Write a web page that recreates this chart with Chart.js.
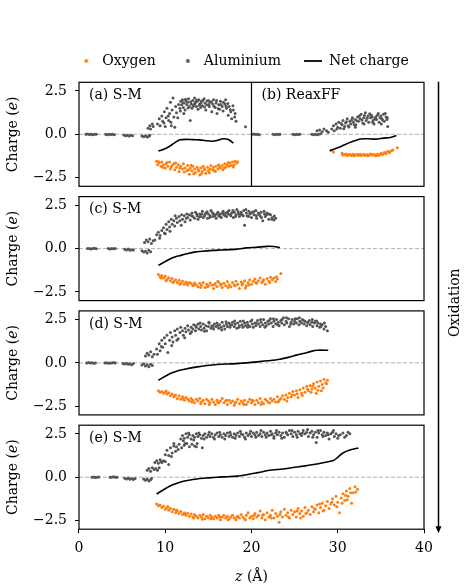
<!DOCTYPE html>
<html><head><meta charset="utf-8">
<script src="https://cdn.jsdelivr.net/npm/chart.js@4.4.1/dist/chart.umd.min.js"></script>
<style>html,body{margin:0;padding:0;background:#fff;}#wrap{position:relative;width:471px;height:588px;}canvas{display:block;}</style>
</head><body><div id="wrap"><canvas id="c" width="471" height="588"></canvas></div>
<script>
// ---------- tick labels / categories ----------
const xTicks = [0, 10, 20, 30, 40];
const xTickLabels = ['0', '10', '20', '30', '40'];
const yTicks = [-2.5, 0, 2.5];
const yTickLabels = ['\u22122.5', '0.0', '2.5'];
const seriesNames = ['Oxygen', 'Aluminium', 'Net charge'];
const panelLabels = ['(a) S-M', '(c) S-M', '(d) S-M', '(e) S-M'];
const reaxLabel = '(b) ReaxFF';
const reaxStart = [20];
const zeroLine = [[0, 0], [40, 0]];

// ---------- panel (a) S-M ----------
const alA = [[0.8,0.0],[1.0,0.02],[1.2,-0.01],[1.4,0.01],[1.6,-0.02],[1.8,0.0],[2.0,0.01],
[3.1,0.0],[3.3,-0.02],[3.5,0.01],[3.7,-0.01],[3.9,0.0],[4.1,-0.02],
[5.2,-0.04],[5.4,-0.08],[5.6,-0.05],[5.8,-0.1],[6.0,-0.06],[6.2,-0.09],
[7.3,-0.1],[7.5,-0.14],[7.7,-0.08],[7.9,-0.16],[8.1,-0.11],[8.2,-0.05],
[8.0,0.35],[8.2,0.5],[8.3,0.3],[8.5,0.6],[8.6,0.45],
[9.1,0.6],[9.3,0.9],[9.4,0.5],[9.6,1.05],[9.7,0.75],[9.9,1.3],[10.0,0.45],[10.1,0.95],[10.2,1.5],[10.4,0.8],[10.5,1.2],[10.6,1.85],[10.7,0.5],[10.8,1.4],[10.9,2.1],[11.0,1.0],[11.1,0.4],[11.2,1.6],[11.3,1.25],
[11.7,1.5],[11.8,1.9],[11.9,1.7],[12.0,2.0],[12.1,1.55],[12.2,1.8],[12.3,1.4],[12.4,1.95],[12.5,1.7],[12.6,1.85],[12.7,2.05],[12.8,1.6],[12.9,0.8],[13.0,1.75],[13.1,1.5],[13.2,1.95],[13.3,1.7],[13.4,2.1],[13.5,1.85],[13.6,1.6],[13.7,1.9],[13.8,1.45],[13.9,2.0],[14.0,1.75],[14.1,1.55],[14.2,1.9],[14.3,1.65],[14.5,2.05],[14.6,1.8],[14.7,1.4],[14.8,1.7],[15.0,1.95],[15.1,1.6],[15.2,1.85],[15.4,1.3],[15.5,1.75],[15.6,2.0],[15.8,1.55],[15.9,1.8],[16.0,1.2],[16.2,1.7],[16.3,1.45],[16.4,1.9],[16.6,1.6],[16.7,1.35],[16.9,1.75],[17.0,2.0],[17.1,1.5],[17.3,1.1],[17.4,1.6],[17.6,1.3],[17.7,0.9],[17.9,1.4],[18.1,1.2],[18.2,0.75],[19.3,0.43],
[11.55,1.72],[11.75,1.35],[12.05,1.82],[12.35,2.02],[12.65,1.52],[12.95,1.88],[13.25,1.62],[13.45,1.78],[13.65,1.98],[13.95,1.68],[14.15,1.82],[14.35,1.95],[14.55,1.58],[14.85,1.92],[15.05,1.72],[15.35,1.88],[15.65,1.62],[15.95,1.95],[16.15,1.48],[16.45,1.72],[16.75,1.85],[17.05,1.62],[17.25,1.78],[17.55,1.42],[17.85,1.65],[18.05,1.0],[10.35,1.05],[10.65,0.7],[9.85,0.65],[11.45,0.95],[12.15,1.2]];
const oxA = [[9.0,-1.55],[9.1,-1.75],[9.3,-1.65],[9.5,-1.85],[9.6,-1.6],[9.8,-1.75],[10.0,-1.95],[10.1,-1.7],[10.3,-1.85],[10.5,-1.6],[10.6,-2.0],[10.8,-1.8],[11.0,-1.7],[11.1,-2.05],[11.3,-1.9],[11.5,-1.75],[11.6,-2.15],[11.8,-1.85],[12.0,-2.0],[12.1,-1.7],[12.3,-1.95],[12.5,-2.1],[12.6,-1.8],[12.8,-2.3],[12.9,-1.95],[13.1,-2.1],[13.2,-1.85],[13.4,-2.0],[13.5,-2.2],[13.7,-1.9],[13.8,-2.05],[14.0,-2.35],[14.1,-1.95],[14.3,-2.15],[14.4,-1.85],[14.6,-2.05],[14.7,-2.25],[14.9,-1.9],[15.0,-2.1],[15.2,-2.0],[15.3,-1.8],[15.5,-2.05],[15.6,-1.9],[15.8,-2.15],[15.9,-1.85],[16.1,-2.0],[16.2,-1.75],[16.4,-1.95],[16.6,-1.8],[16.7,-2.05],[16.9,-1.7],[17.0,-1.9],[17.2,-1.75],[17.4,-1.85],[17.5,-1.65],[17.7,-1.8],[17.8,-1.6],[18.0,-1.75],[18.1,-1.55],[18.3,-1.65],
[9.25,-1.58],[9.7,-1.9],[10.2,-1.62],[10.7,-1.88],[11.2,-1.65],[11.7,-1.95],[12.2,-2.18],[12.7,-2.05],[13.3,-2.28],[13.9,-2.12],[14.5,-1.98],[15.1,-2.22],[15.7,-2.1],[16.3,-1.88],[16.8,-1.95],[17.3,-1.62],[17.9,-1.88],[18.4,-1.58],[13.0,-1.78],[14.2,-2.28]];
const netA = [[9.2,-0.97],[9.9,-0.85],[10.6,-0.66],[11.2,-0.45],[11.7,-0.32],[12.4,-0.29],[13.2,-0.31],[14.0,-0.32],[14.7,-0.37],[15.4,-0.4],[16.0,-0.36],[16.7,-0.26],[17.3,-0.3],[17.9,-0.5]];

// ---------- panel (b) ReaxFF ----------
const alB = [[20.1,0.0],[20.3,0.02],[20.5,-0.01],[20.7,0.01],[20.9,-0.02],
[22.5,0.0],[22.7,-0.02],[22.9,0.01],[23.1,-0.01],[23.3,0.0],
[24.8,0.0],[25.0,-0.02],[25.2,0.01],[25.4,-0.01],[25.6,0.0],
[27.0,0.0],[27.2,-0.03],[27.4,0.01],[27.6,-0.02],[27.8,0.0],[28.0,0.03],
[27.6,0.2],[27.9,0.25],[28.2,0.15],[28.4,0.3],[28.7,0.2],[28.9,0.12],
[29.3,0.3],[29.5,0.5],[29.6,0.2],[29.8,0.6],[30.0,0.4],[30.1,0.7],[30.3,0.35],[30.5,0.55],[30.6,0.8],[30.8,0.45],[30.9,0.65],[31.1,0.9],[31.2,0.5],[31.4,0.75],[31.5,0.6],[31.7,0.95],[31.8,0.7],[32.0,0.85],[32.1,0.55],[32.3,1.0],[32.4,0.75],[32.6,0.9],[32.7,1.15],[32.9,0.65],[33.0,0.95],[33.2,1.25],[33.3,0.8],[33.5,1.05],[33.6,0.7],[33.8,0.95],[33.9,1.1],[34.1,0.8],[34.2,0.6],[34.4,1.0],[34.5,0.85],[34.7,1.2],[34.8,0.7],[35.0,1.05],[35.1,0.9],[35.3,1.15],[35.4,0.75],[35.6,1.0],[35.7,0.85],[35.8,0.45],
[29.9,0.3],[30.4,0.62],[30.7,0.32],[31.0,0.72],[31.3,0.42],[31.6,0.82],[31.9,0.55],[32.2,0.78],[32.5,1.05],[32.8,0.82],[33.1,1.08],[33.4,0.92],[33.7,1.18],[34.0,1.0],[34.3,0.88],[34.6,1.1],[34.9,0.95],[35.2,0.82],[35.5,1.2],[35.75,0.95],[32.05,0.4],[33.05,0.6],[34.05,0.7],[35.05,0.6]];
const oxB = [[29.2,-0.92],[29.5,-1.02],[30.5,-1.1],[30.8,-1.18],[31.0,-1.14],[31.2,-1.2],[31.4,-1.16],[31.6,-1.22],[31.8,-1.15],[32.0,-1.2],[32.2,-1.18],[32.4,-1.22],[32.6,-1.15],[32.8,-1.2],[33.0,-1.17],[33.2,-1.23],[33.4,-1.16],[33.6,-1.2],[33.8,-1.14],[34.0,-1.2],[34.2,-1.17],[34.4,-1.24],[34.6,-1.15],[34.8,-1.2],[35.0,-1.1],[35.2,-1.16],[35.4,-1.05],[35.6,-1.12],[35.8,-0.98],[36.0,-1.05],[36.2,-0.95],[36.9,-0.78],
[30.6,-1.2],[31.1,-1.22],[31.5,-1.18],[31.9,-1.24],[32.3,-1.16],[32.7,-1.22],[33.1,-1.2],[33.5,-1.24],[33.9,-1.18],[34.3,-1.2],[34.7,-1.22],[35.1,-1.14],[35.5,-1.08],[35.9,-1.02],[36.4,-0.9]];
const netB = [[29.1,-0.95],[30.0,-0.78],[30.8,-0.6],[31.7,-0.42],[32.6,-0.27],[33.5,-0.26],[34.4,-0.28],[35.3,-0.22],[36.1,-0.18],[36.8,-0.07]];

// ---------- panel (c) S-M ----------
const alC = [[1.0,0.0],[1.2,0.01],[1.4,-0.02],[1.6,0.0],[1.8,0.02],[2.0,-0.01],
[3.4,0.0],[3.6,-0.02],[3.8,0.01],[4.0,-0.01],[4.2,0.0],
[5.3,-0.04],[5.5,-0.08],[5.7,-0.03],[5.9,-0.1],[6.1,-0.06],[6.3,-0.08],
[7.3,-0.12],[7.5,-0.2],[7.7,-0.15],[7.9,-0.25],[8.1,-0.1],[8.3,-0.18],
[7.6,0.35],[7.8,0.5],[8.0,0.4],[8.2,0.55],[8.4,0.3],[8.6,0.45],[8.8,0.5],[9.0,0.8],[9.2,0.95],[9.4,0.75],[9.6,1.05],[9.8,1.2],[9.9,0.9],[10.1,1.4],[10.2,1.1],[10.4,1.55],[10.5,1.25],[10.7,1.7],[10.8,1.4],[11.0,1.6],[11.1,1.3],[11.3,1.75],[11.4,1.5],[11.6,1.85],[11.7,1.6],[11.9,1.95],[12.0,1.7],[12.2,1.9],[12.3,1.55],[12.5,2.0],[12.6,1.8],[12.8,1.95],[12.9,1.65],[13.1,2.05],[13.2,1.85],[13.4,1.75],[13.5,2.1],[13.7,1.9],[13.8,1.7],[14.0,2.0],[14.1,1.85],[14.3,2.15],[14.4,1.8],[14.6,1.95],[14.7,2.05],[14.9,1.75],[15.0,2.0],[15.2,1.9],[15.3,2.2],[15.5,1.85],[15.6,2.0],[15.8,1.95],[15.9,1.75],[16.1,2.1],[16.2,1.9],[16.4,2.0],[16.5,1.8],[16.7,2.15],[16.8,1.95],[17.0,2.05],[17.1,1.85],[17.3,2.0],[17.4,2.2],[17.6,1.9],[17.7,2.05],[17.9,1.8],[18.0,2.1],[18.2,1.95],[18.3,2.25],[18.5,2.0],[18.6,1.85],[18.8,2.1],[18.9,1.95],[19.1,2.2],[19.2,1.35],[19.4,2.05],[19.5,1.9],[19.7,2.15],[19.8,2.0],[20.0,1.8],[20.1,2.1],[20.3,1.95],[20.5,2.2],[20.6,1.75],[20.8,2.05],[21.0,1.9],[21.1,2.1],[21.3,1.6],[21.5,2.0],[21.6,1.85],[21.8,2.05],[22.0,1.7],[22.2,1.95],[22.4,1.8],[22.6,1.65],[22.8,1.75],
[13.95,1.82],[14.25,2.0],[14.55,1.88],[14.85,2.12],[15.15,1.8],[15.45,2.08],[15.75,1.88],[16.05,2.02],[16.35,1.85],[16.65,2.05],[16.95,1.9],[17.25,2.12],[17.55,1.95],[17.85,2.2],[18.15,1.85],[18.45,2.12],[18.75,1.98],[19.05,1.9],[19.35,2.25],[19.65,1.85],[19.95,2.05],[20.25,2.12],[20.55,1.9],[20.85,1.98],[21.15,1.8],[21.45,2.15],[21.75,1.95],[22.05,2.0],[22.35,1.7],[22.65,1.88],[10.55,1.0],[11.15,1.9],[11.85,1.35],[12.45,1.75],[13.05,1.9],[13.65,2.0],[9.35,0.6],[10.0,0.85]];
const oxC = [[9.2,-1.5],[9.4,-1.62],[9.6,-1.55],[9.8,-1.7],[10.0,-1.6],[10.2,-1.78],[10.4,-1.68],[10.6,-1.85],[10.8,-1.72],[11.0,-1.9],[11.2,-1.8],[11.4,-1.95],[11.6,-1.82],[11.8,-2.0],[12.0,-1.88],[12.2,-2.05],[12.4,-1.92],[12.6,-2.1],[12.8,-1.95],[13.0,-2.02],[13.2,-2.15],[13.4,-1.98],[13.6,-2.08],[13.8,-2.2],[14.0,-2.0],[14.2,-2.12],[14.4,-1.95],[14.6,-2.25],[14.8,-2.05],[15.0,-2.15],[15.2,-1.98],[15.4,-2.1],[15.6,-2.3],[15.8,-2.02],[16.0,-2.18],[16.2,-1.95],[16.4,-2.1],[16.6,-2.25],[16.8,-2.0],[17.0,-2.15],[17.2,-1.9],[17.4,-2.08],[17.6,-2.2],[17.8,-1.95],[18.0,-2.1],[18.2,-1.88],[18.4,-2.05],[18.6,-2.3],[18.8,-1.92],[19.0,-2.02],[19.2,-1.85],[19.4,-2.15],[19.6,-1.95],[19.8,-1.8],[20.0,-2.05],[20.2,-1.88],[20.4,-1.75],[20.6,-2.0],[20.8,-1.85],[21.0,-1.7],[21.2,-1.95],[21.4,-1.8],[21.6,-2.05],[21.8,-1.72],[22.0,-1.88],[22.2,-1.65],[22.4,-1.8],[22.6,-1.7],[22.8,-1.9],[23.0,-1.75],[23.4,-1.43],
[9.5,-1.7],[10.1,-1.85],[10.9,-1.95],[11.7,-2.05],[12.5,-2.0],[13.3,-2.1],[14.1,-2.25],[14.9,-2.2],[15.7,-2.08],[16.5,-2.05],[17.3,-2.25],[18.1,-2.15],[18.9,-2.1],[19.7,-2.1],[20.5,-1.95],[21.3,-1.88],[22.1,-1.95],[22.9,-1.62],[16.1,-1.88],[19.3,-2.28]];
const netC = [[9.2,-0.97],[10.0,-0.75],[10.6,-0.58],[11.2,-0.47],[11.8,-0.39],[12.5,-0.3],[13.2,-0.22],[14.3,-0.15],[15.5,-0.1],[16.5,-0.08],[17.5,-0.06],[18.5,-0.02],[19.4,0.04],[20.6,0.08],[21.8,0.13],[22.6,0.12],[23.3,0.06]];

// ---------- panel (d) S-M ----------
const alD = [[0.9,0.0],[1.1,0.02],[1.3,-0.01],[1.5,0.01],[1.7,-0.02],[1.9,0.0],
[3.0,0.0],[3.2,0.01],[3.4,-0.02],[3.6,0.0],[3.8,-0.01],[4.0,0.02],[4.2,0.0],
[5.1,-0.03],[5.3,-0.06],[5.5,-0.02],[5.7,-0.08],[5.9,-0.05],[6.1,-0.1],[6.3,-0.04],
[7.3,-0.12],[7.5,-0.05],[7.7,-0.18],[7.9,-0.1],[8.1,-0.22],[8.3,-0.08],[8.5,-0.15],
[7.7,0.4],[7.9,0.55],[8.1,0.45],[8.3,0.65],[8.5,0.35],[8.7,0.5],
[9.0,0.8],[9.1,0.5],[9.3,1.1],[9.4,0.7],[9.6,1.3],[9.7,0.9],[9.9,1.45],[10.0,1.1],[10.2,1.6],[10.3,0.6],[10.5,1.3],[10.6,1.75],[10.8,1.5],[10.9,1.2],[11.1,1.85],[11.2,1.6],[11.4,1.95],[11.5,1.4],[11.7,1.75],[11.8,2.05],[12.0,1.85],[12.1,1.6],[12.3,2.0],[12.4,1.8],[12.6,2.15],[12.7,1.9],[12.9,1.7],[13.0,2.05],[13.2,1.95],[13.3,2.2],[13.5,1.85],[13.6,2.05],[13.8,2.25],[13.9,1.95],[14.1,2.1],[14.2,1.9],[14.4,2.25],[14.5,2.0],[14.7,2.15],[14.8,1.85],[15.0,2.1],[15.1,2.3],[15.3,2.0],[15.4,2.15],[15.6,1.95],[15.7,2.25],[15.9,2.1],[16.0,2.3],[16.2,2.0],[16.3,2.2],[16.5,2.05],[16.6,2.35],[16.8,2.15],[16.9,1.95],[17.1,2.25],[17.2,2.1],[17.4,2.3],[17.5,2.05],[17.7,2.2],[17.8,2.35],[18.0,2.1],[18.1,2.25],[18.3,2.0],[18.4,2.3],[18.6,2.15],[18.7,2.4],[18.9,2.2],[19.0,2.05],[19.2,2.3],[19.3,2.15],[19.5,2.35],[19.6,2.2],[19.8,2.1],[19.9,2.4],[20.1,2.25],[20.2,2.05],[20.4,2.3],[20.5,2.15],[20.7,2.45],[20.8,2.25],[21.0,2.1],[21.1,2.35],[21.3,2.2],[21.4,2.5],[21.6,2.3],[21.7,2.15],[21.9,2.4],[22.0,2.25],[22.2,2.55],[22.3,2.3],[22.5,2.1],[22.6,2.4],[22.8,2.25],[22.9,2.5],[23.1,2.35],[23.2,2.15],[23.4,2.45],[23.5,2.3],[23.7,2.6],[23.8,2.2],[24.0,2.4],[24.1,2.3],[24.3,2.55],[24.4,2.1],[24.6,2.35],[24.7,2.5],[24.9,2.25],[25.0,2.4],[25.2,2.3],[25.3,2.55],[25.5,2.2],[25.6,2.4],[25.8,2.3],[25.9,2.5],[26.1,2.25],[26.2,2.4],[26.4,2.15],[26.5,2.35],[26.7,2.45],[26.8,2.2],[27.0,2.35],[27.1,2.1],[27.3,2.3],[27.4,2.4],[27.6,2.15],[27.7,2.3],[27.9,2.05],[28.0,2.25],[28.2,2.2],[28.4,1.95],[28.6,2.1],[28.8,1.85],
[13.05,1.8],[13.55,2.15],[14.05,2.3],[14.55,1.82],[15.05,2.35],[15.55,2.1],[16.05,2.15],[16.55,1.9],[17.05,2.38],[17.55,2.18],[18.05,2.42],[18.55,2.05],[19.05,2.42],[19.55,2.05],[20.05,2.48],[20.55,2.3],[21.05,2.5],[21.55,2.05],[22.05,2.45],[22.55,2.55],[23.05,2.2],[23.55,2.5],[24.05,2.6],[24.55,2.25],[25.05,2.55],[25.55,2.6],[26.05,2.45],[26.55,2.3],[27.05,2.5],[27.55,2.42],[28.05,2.1],[28.45,2.3],[10.75,1.0],[11.35,1.3],[12.25,1.45],[9.55,0.95]];
const oxD = [[9.2,-1.6],[9.4,-1.7],[9.6,-1.65],[9.8,-1.75],[10.0,-1.68],[10.2,-1.8],[10.4,-1.72],[10.6,-1.9],[10.8,-1.8],[11.0,-1.95],[11.2,-1.85],[11.4,-2.05],[11.6,-1.9],[11.8,-2.1],[12.0,-1.95],[12.2,-2.15],[12.4,-2.0],[12.6,-2.1],[12.8,-2.2],[13.0,-2.05],[13.2,-2.15],[13.4,-2.3],[13.6,-2.1],[13.8,-2.2],[14.0,-2.05],[14.2,-2.25],[14.4,-2.15],[14.6,-2.35],[14.8,-2.1],[15.0,-2.2],[15.2,-2.3],[15.4,-2.1],[15.6,-2.25],[15.8,-2.4],[16.0,-2.15],[16.2,-2.3],[16.4,-2.2],[16.6,-2.05],[16.8,-2.3],[17.0,-2.2],[17.2,-2.4],[17.4,-2.15],[17.6,-2.3],[17.8,-2.2],[18.0,-2.45],[18.2,-2.25],[18.4,-2.1],[18.6,-2.35],[18.8,-2.2],[19.0,-2.3],[19.2,-2.15],[19.4,-2.4],[19.6,-2.25],[19.8,-2.1],[20.0,-2.3],[20.2,-2.2],[20.4,-2.4],[20.6,-2.15],[20.8,-2.3],[21.0,-2.05],[21.2,-2.25],[21.4,-2.35],[21.6,-2.1],[21.8,-2.2],[22.0,-2.3],[22.2,-2.05],[22.4,-2.2],[22.6,-2.1],[22.8,-2.25],[23.0,-1.95],[23.2,-2.15],[23.4,-2.05],[23.6,-1.9],[23.8,-2.1],[24.0,-1.85],[24.2,-2.0],[24.4,-1.75],[24.6,-1.95],[24.8,-1.65],[25.0,-1.85],[25.2,-1.6],[25.4,-2.0],[25.6,-1.55],[25.8,-1.75],[26.0,-1.45],[26.2,-1.7],[26.4,-1.35],[26.6,-1.6],[26.8,-1.3],[27.0,-1.5],[27.2,-1.2],[27.4,-1.45],[27.5,-1.75],[27.6,-1.1],[27.8,-1.35],[28.0,-1.05],[28.1,-1.6],[28.2,-1.25],[28.4,-0.95],[28.6,-1.15],[28.8,-1.0],
[10.1,-1.62],[11.1,-1.88],[12.1,-2.05],[13.1,-2.25],[14.1,-2.35],[15.1,-2.4],[16.1,-2.28],[17.1,-2.15],[18.1,-2.3],[19.1,-2.4],[20.1,-2.15],[21.1,-2.4],[22.1,-2.3],[23.1,-2.25],[24.1,-2.2],[24.7,-1.85],[25.3,-1.78],[25.9,-1.88],[26.5,-1.52],[27.1,-1.35],[27.7,-1.58],[28.3,-1.45],[28.7,-1.2],[26.9,-1.7]];
const netD = [[9.2,-1.0],[10.6,-0.61],[11.3,-0.48],[12.1,-0.38],[13.7,-0.23],[14.8,-0.15],[16.0,-0.09],[18.3,-0.04],[20.6,0.06],[21.9,0.12],[23.3,0.21],[24.5,0.35],[25.2,0.45],[26.0,0.54],[26.8,0.65],[27.6,0.73],[28.9,0.73]];

// ---------- panel (e) S-M ----------
const alE = [[1.5,0.0],[1.7,0.01],[1.9,-0.02],[2.1,0.0],[2.3,0.01],
[3.6,0.0],[3.8,-0.01],[4.0,0.02],[4.2,-0.01],[4.4,0.0],
[5.3,-0.06],[5.5,-0.1],[5.7,-0.05],[5.9,-0.12],[6.1,-0.08],[6.3,-0.13],[6.5,-0.07],
[7.5,-0.1],[7.7,-0.18],[7.9,-0.12],[8.1,-0.22],[8.3,-0.15],[8.4,-0.08],
[7.9,0.4],[8.1,0.5],[8.3,0.35],[8.5,0.55],[8.7,0.45],[8.9,0.5],[9.1,0.4],[9.3,0.55],
[8.8,0.85],[9.0,0.95],[9.2,0.8],[9.4,1.0],[9.6,0.85],[9.8,0.95],[10.0,0.9],[10.4,0.73],
[10.0,1.3],[10.2,1.55],[10.4,1.25],[10.6,1.7],[10.8,1.4],[11.0,1.8],[11.2,1.5],
[11.0,1.95],[11.3,1.75],[11.6,1.9],[11.9,1.7],[12.2,1.85],[12.5,1.95],[12.8,1.75],[13.1,1.9],[13.4,1.8],[13.7,1.95],[14.3,1.7],
[11.8,2.2],[12.0,2.4],[12.2,2.25],[12.4,2.5],[12.6,2.3],[12.8,2.45],[13.0,2.2],[13.2,2.4],[13.4,2.3],[13.6,2.5],[13.8,2.35],[14.0,2.45],[14.2,2.25],[14.4,2.4],[14.6,2.5],[14.8,2.3],[15.0,2.45],[15.2,2.35],[15.4,2.5],[15.6,2.3],[15.8,2.45],[16.0,2.55],[16.2,2.35],[16.4,2.45],[16.6,2.3],[16.8,2.5],[17.0,2.4],[17.2,2.55],[17.4,2.35],[17.6,2.45],[17.8,2.3],[18.0,2.5],[18.2,2.4],[18.4,2.55],[18.6,2.35],[18.8,2.5],[19.0,2.45],[19.2,2.3],[19.4,2.55],[19.6,2.4],[19.8,2.5],[20.0,2.35],[20.2,2.55],[20.4,2.45],[20.6,2.6],[20.8,2.4],[21.0,2.5],[21.2,2.35],[21.4,2.6],[21.6,2.45],[21.8,2.55],[22.0,2.4],[22.2,2.65],[22.4,2.5],[22.6,2.35],[22.8,2.55],[23.0,2.45],[23.2,2.6],[23.4,2.4],[23.6,2.55],[23.8,2.3],[24.0,2.6],[24.2,2.45],[24.4,2.7],[24.6,2.5],[24.8,2.35],[25.0,2.6],[25.2,2.45],[25.4,2.65],[25.6,2.5],[25.8,2.4],[26.0,2.7],[26.2,2.5],[26.4,2.6],[26.6,2.35],[26.8,2.55],[27.0,2.65],[27.2,2.45],[27.4,2.6],[27.6,2.3],[27.8,2.55],[28.0,2.7],[28.2,2.45],[28.4,2.6],[28.6,2.4],[28.8,2.55],[29.0,2.2],[29.2,2.5],[29.4,2.6],[29.6,2.35],[29.8,2.5],[30.0,2.25],[30.3,2.45],[30.6,2.55],[31.0,2.4],[31.4,2.5],
[12.1,2.1],[12.7,2.55],[13.3,2.15],[13.9,2.55],[14.5,2.2],[15.1,2.6],[15.7,2.2],[16.3,2.6],[16.9,2.2],[17.5,2.6],[18.1,2.25],[18.7,2.65],[19.3,2.2],[19.9,2.65],[20.5,2.3],[21.1,2.7],[21.7,2.3],[22.3,2.45],[22.9,2.7],[23.5,2.25],[24.1,2.5],[24.7,2.7],[25.3,2.3],[25.9,2.55],[26.5,2.75],[27.1,2.3],[27.7,2.7],[28.3,2.35],[28.9,2.45],[29.5,2.7],[30.1,2.4],[30.8,2.3],[31.2,2.6],[12.3,1.95],[13.6,1.75],[10.7,1.2],[11.5,1.6],[9.5,0.9],[22.6,2.25],[27.5,2.0]];
const oxE = [[9.0,-1.55],[9.2,-1.65],[9.4,-1.6],[9.6,-1.75],[9.8,-1.68],[10.0,-1.85],[10.2,-1.75],[10.4,-1.9],[10.6,-1.8],[10.8,-2.0],[11.0,-1.85],[11.2,-2.05],[11.4,-1.95],[11.6,-2.1],[11.8,-1.98],[12.0,-2.15],[12.2,-2.05],[12.4,-2.2],[12.6,-2.08],[12.8,-2.25],[13.0,-2.12],[13.2,-2.3],[13.4,-2.15],[13.6,-2.25],[13.8,-2.35],[14.0,-2.2],[14.2,-2.3],[14.4,-2.15],[14.6,-2.4],[14.8,-2.25],[15.0,-2.35],[15.2,-2.2],[15.4,-2.3],[15.6,-2.4],[15.8,-2.25],[16.0,-2.35],[16.2,-2.2],[16.4,-2.45],[16.6,-2.3],[16.8,-2.2],[17.0,-2.35],[17.2,-2.25],[17.4,-2.4],[17.6,-2.3],[17.8,-2.2],[18.0,-2.35],[18.2,-2.45],[18.4,-2.25],[18.6,-2.35],[18.8,-2.15],[19.0,-2.3],[19.2,-2.4],[19.4,-2.2],[19.6,-2.05],[19.8,-2.35],[20.0,-2.25],[20.2,-2.4],[20.4,-2.1],[20.6,-2.3],[20.8,-2.2],[21.0,-1.95],[21.2,-2.35],[21.4,-2.15],[21.6,-2.45],[21.8,-2.05],[22.0,-2.3],[22.2,-2.2],[22.4,-1.9],[22.6,-2.35],[22.8,-2.1],[23.0,-2.25],[23.2,-2.6],[23.4,-2.0],[23.6,-2.3],[23.8,-1.85],[24.0,-2.2],[24.2,-2.05],[24.4,-2.35],[24.6,-1.9],[24.8,-2.15],[25.0,-2.0],[25.2,-2.3],[25.4,-1.8],[25.6,-2.1],[25.8,-1.95],[26.0,-2.25],[26.2,-1.75],[26.4,-2.05],[26.6,-1.9],[26.8,-2.15],[27.0,-1.7],[27.2,-2.0],[27.4,-1.85],[27.6,-1.6],[27.8,-2.05],[28.0,-1.75],[28.2,-1.5],[28.4,-1.9],[28.6,-1.65],[28.8,-1.4],[29.0,-1.8],[29.2,-1.55],[29.4,-1.25],[29.6,-1.6],[29.8,-1.1],[30.0,-1.45],[30.2,-2.05],[30.4,-1.2],[30.6,-0.95],[30.8,-1.35],[31.0,-0.8],[31.2,-1.1],[31.4,-0.65],[31.6,-1.5],[31.8,-0.9],[32.0,-0.55],[32.3,-0.7],
[10.3,-1.7],[11.3,-1.9],[12.3,-2.1],[13.3,-2.35],[14.3,-2.42],[15.3,-2.4],[16.3,-2.3],[17.3,-2.45],[18.3,-2.3],[19.3,-2.45],[20.3,-2.2],[21.3,-2.2],[22.3,-2.35],[23.3,-2.15],[24.3,-2.3],[25.3,-1.95],[26.3,-2.1],[27.3,-1.8],[28.3,-1.95],[29.3,-1.45],[29.9,-1.7],[30.5,-1.5],[31.1,-1.3],[31.5,-0.9],[32.1,-0.85],[25.7,-2.35],[27.9,-1.55],[30.9,-1.05]];
const netE = [[9.0,-0.97],[10.5,-0.52],[11.2,-0.38],[12.1,-0.23],[13.7,-0.1],[14.8,-0.05],[16.0,0.0],[17.2,0.03],[18.3,0.06],[19.4,0.14],[20.6,0.25],[21.4,0.33],[22.1,0.4],[23.0,0.44],[24.1,0.5],[25.0,0.57],[26.0,0.64],[27.2,0.73],[28.3,0.83],[29.5,0.96],[30.0,1.15],[30.6,1.4],[31.5,1.58],[32.4,1.69]];

// ---------- styling ----------
const FONT = 'DejaVu Serif';
const ORANGE = '#ff7f0e', GREY = '#555555', BLACK = '#000000';
const PANEL_H = 104, GAP_H = 10.3;
Chart.defaults.font.family = FONT;
Chart.defaults.font.size = 14;
Chart.defaults.color = '#000';

const pts = a => a.map(p => ({x: p[0], y: p[1]}));
function scatterDs(label, data, color, yAxisID) {
  return {type: 'scatter', label, data: pts(data), xAxisID: 'x', yAxisID, backgroundColor: color, borderWidth: 0, pointRadius: 1.5, pointHoverRadius: 1.5, order: 2};
}
function netDs(data, yAxisID) {
  return {type: 'line', label: seriesNames[2], data: pts(data), xAxisID: 'x', yAxisID, borderColor: BLACK, borderWidth: 1.6, pointRadius: 0, tension: 0.3, fill: false, order: 1};
}
function zeroDs(yAxisID) {
  return {type: 'line', label: 'zero', data: pts(zeroLine), xAxisID: 'x', yAxisID, borderColor: '#9a9a9a', borderWidth: 0.8, borderDash: [4, 2], pointRadius: 0, fill: false, order: 3};
}

const datasets = [
  scatterDs(seriesNames[0], oxA, ORANGE, 'yA'), scatterDs(seriesNames[1], alA, GREY, 'yA'), netDs(netA, 'yA'),
  scatterDs(seriesNames[0], oxB, ORANGE, 'yA'), scatterDs(seriesNames[1], alB, GREY, 'yA'), netDs(netB, 'yA'),
  scatterDs(seriesNames[0], oxC, ORANGE, 'yC'), scatterDs(seriesNames[1], alC, GREY, 'yC'), netDs(netC, 'yC'),
  scatterDs(seriesNames[0], oxD, ORANGE, 'yD'), scatterDs(seriesNames[1], alD, GREY, 'yD'), netDs(netD, 'yD'),
  scatterDs(seriesNames[0], oxE, ORANGE, 'yE'), scatterDs(seriesNames[1], alE, GREY, 'yE'), netDs(netE, 'yE'),
  zeroDs('yA'), zeroDs('yC'), zeroDs('yD'), zeroDs('yE')
];

// legend handles
function handle(kind, color) {
  const c = document.createElement('canvas');
  c.width = 20; c.height = 6;
  const g = c.getContext('2d');
  if (kind === 'dot') { g.fillStyle = color; g.beginPath(); g.arc(10, 3, 1.9, 0, Math.PI * 2); g.fill(); }
  else { g.strokeStyle = color; g.lineWidth = 1.8; g.beginPath(); g.moveTo(1, 3); g.lineTo(19, 3); g.stroke(); }
  return c;
}
const legendHandles = [handle('dot', ORANGE), handle('dot', GREY), handle('line', BLACK)];

function panelAxis(w) {
  return {type: 'linear', position: 'left', stack: 'p', stackWeight: PANEL_H, weight: w, min: -3, max: 3,
    afterBuildTicks: s => { s.ticks = yTicks.map(v => ({value: v})); },
    ticks: {callback: v => yTickLabels[yTicks.indexOf(v)], padding: 8, color: '#000', font: {family: FONT, size: 14}, autoSkip: false},
    grid: {display: true, drawOnChartArea: false, drawTicks: true, tickLength: 4, tickColor: '#000', tickWidth: 1},
    border: {display: false},
    afterFit: s => { s.width = 64; s.paddingTop = 0; s.paddingBottom = 0; }};
}
function gapAxis(w) {
  return {type: 'linear', position: 'left', stack: 'p', stackWeight: GAP_H, weight: w, min: 0, max: 1,
    ticks: {display: false}, grid: {display: false}, border: {display: false},
    afterFit: s => { s.width = 64; s.paddingTop = 0; s.paddingBottom = 0; }};
}

function rich(ctx, segs, x, y, rot, align) {
  ctx.save();
  ctx.translate(x, y); ctx.rotate(rot);
  ctx.textBaseline = 'middle'; ctx.textAlign = 'left'; ctx.fillStyle = '#000';
  let total = 0;
  segs.forEach(s => { ctx.font = (s.i ? 'italic ' : '') + '14px "' + FONT + '"'; s.w = ctx.measureText(s.t).width; total += s.w; });
  let cx = align === 'center' ? -total / 2 : 0;
  segs.forEach(s => { ctx.font = (s.i ? 'italic ' : '') + '14px "' + FONT + '"'; ctx.fillText(s.t, cx, 0); cx += s.w; });
  ctx.restore();
}

const LEGEND_TOP = 31, LEGEND_H = 51.3;
const legendFix = {
  id: 'legendFix',
  beforeLayout(chart) {
    const lg = chart.legend;
    if (lg && !lg.__fixed) {
      const proto = Object.getPrototypeOf(lg);
      lg.fit = function () { proto.fit.call(this); this.height = LEGEND_H; };
      lg.__fixed = true;
    }
  }
};

const panelIds = ['yA', 'yC', 'yD', 'yE'];
const decor = {
  id: 'decor',
  afterDraw(chart) {
    const ctx = chart.ctx, xs = chart.scales.x;
    ctx.save();
    ctx.strokeStyle = '#000'; ctx.lineWidth = 1.2;
    panelIds.forEach((id, i) => {
      const s = chart.scales[id];
      ctx.strokeRect(xs.left, s.top, xs.right - xs.left, s.bottom - s.top);
      rich(ctx, [{t: panelLabels[i]}], xs.left + 10, s.top + 13, 0, 'left');
      rich(ctx, [{t: 'Charge ('}, {t: 'e', i: true}, {t: ')'}], 13, (s.top + s.bottom) / 2, -Math.PI / 2, 'center');
    });
    const sA = chart.scales.yA;
    const xd = xs.getPixelForValue(reaxStart[0]);
    ctx.beginPath(); ctx.moveTo(xd, sA.top); ctx.lineTo(xd, sA.bottom); ctx.stroke();
    rich(ctx, [{t: reaxLabel}], xd + 10, sA.top + 13, 0, 'left');
    rich(ctx, [{t: 'z', i: true}, {t: ' (\u00c5)'}], (xs.left + xs.right) / 2, 577, 0, 'center');
    const sE = chart.scales.yE;
    const ax = xs.right + 14.5, top = sA.top - 0.5, tip = sE.bottom + 4;
    ctx.lineWidth = 1.5;
    ctx.beginPath(); ctx.moveTo(ax, top); ctx.lineTo(ax, tip - 5); ctx.stroke();
    ctx.fillStyle = '#000';
    ctx.beginPath(); ctx.moveTo(ax - 3, tip - 7); ctx.lineTo(ax + 3, tip - 7); ctx.lineTo(ax, tip); ctx.closePath(); ctx.fill();
    rich(ctx, [{t: 'Oxidation'}], xs.right + 31, (sA.top + sE.bottom) / 2 - 3, -Math.PI / 2, 'center');
    ctx.restore();
  }
};

new Chart(document.getElementById('c'), {
  type: 'scatter',
  data: {datasets},
  options: {
    responsive: false, animation: false,
    layout: {padding: {left: 15, right: 0, top: LEGEND_TOP, bottom: 0}},
    plugins: {
      tooltip: {enabled: false},
      legend: {
        display: true, position: 'top', align: 'center',
        labels: {
          usePointStyle: true, pointStyleWidth: 18, boxHeight: 6, padding: 23,
          font: {family: FONT, size: 14}, color: '#000',
          generateLabels: () => seriesNames.map((n, i) => ({text: n, pointStyle: legendHandles[i], fillStyle: 'transparent', strokeStyle: 'transparent', lineWidth: 0, hidden: false, datasetIndex: i, fontColor: '#000'}))
        }
      }
    },
    scales: {
      x: {type: 'linear', position: 'bottom', min: 0, max: 40,
        afterBuildTicks: s => { s.ticks = xTicks.map(v => ({value: v})); },
        ticks: {callback: v => xTickLabels[xTicks.indexOf(v)], padding: 7, color: '#000', font: {family: FONT, size: 14}, maxRotation: 0, autoSkip: false},
        grid: {display: true, drawOnChartArea: false, drawTicks: true, tickLength: 4, tickColor: '#000', tickWidth: 1},
        border: {display: false},
        afterFit: s => { s.height = 58.8; }},
      yA: panelAxis(7), g1: gapAxis(6), yC: panelAxis(5), g2: gapAxis(4), yD: panelAxis(3), g3: gapAxis(2), yE: panelAxis(1),
      yR: {type: 'linear', position: 'right', display: true, ticks: {display: false}, grid: {display: false}, border: {display: false}, afterFit: s => { s.width = 47; }}
    }
  },
  plugins: [legendFix, decor]
});
</script></body></html>
